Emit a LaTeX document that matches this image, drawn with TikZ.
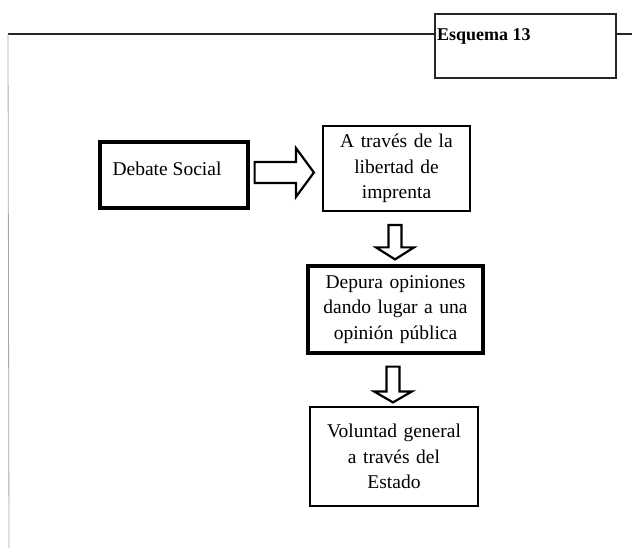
\documentclass[tikz,border=0pt]{standalone}
\usepackage{fontspec}
\setmainfont{Liberation Serif}
\usetikzlibrary{calc}

\tikzset{
  box/.style={draw=black, rectangle, align=center, inner sep=0pt,
    font=\fontsize{19.5}{25.5}\selectfont},
  thickbox/.style={box, line width=3.2pt},
  thinbox/.style={box, line width=2.2pt},
  blockarrow/.style={draw=black, fill=white, line width=2.2pt, line join=miter},
  rule/.style={draw=black!85, line width=1.4pt},
  margin/.style={draw=black!35, line width=0.8pt}
}

% Hollow block arrow from #1 to the tip #2 (sizes in pt):
% #3 shaft half-width, #4 head half-width, #5 head length
\newcommand\blkarrow[5]{%
  \coordinate (hb) at ($(#2)!#5pt!(#1)$);
  \draw[blockarrow]
    ($(#1)!#3pt!90:(#2)$) -- ($(hb)!#3pt!90:(#2)$) -- ($(hb)!#4pt!90:(#2)$)
    -- (#2) -- ($(hb)!#4pt!-90:(#2)$) -- ($(hb)!#3pt!-90:(#2)$)
    -- ($(#1)!#3pt!-90:(#2)$) -- cycle;
}

\begin{document}
\begin{tikzpicture}[x=1pt, y=-1pt]
  \useasboundingbox (0,0) rectangle (632,556);

  % header rule with the scheme label
  \coordinate (tl) at (8,34);
  \coordinate (tr) at (632,34);
  \coordinate (bl) at (9,548);
  \node[rule, rectangle, minimum width=181pt, minimum height=64pt] (esq) at (525.5,46) {};
  \node[anchor=base west, inner sep=0pt, font=\fontsize{18}{20}\selectfont\bfseries]
    (esqlabel) at (437,41) {Esquema 13};
  \draw[rule] (tl) -- (tl -| esq.west);
  \draw[rule] (esq.east |- tr) -- (tr);
  \draw[margin] (tl) -- (bl);

  % flow boxes
  \node[thickbox, minimum width=148pt, minimum height=66pt, text depth=13pt]
    (debate) at (174,175) {Debate Social\hspace*{14pt}};
  \node[thinbox, minimum width=147pt, minimum height=85pt, text width=140pt]
    (libertad) at (396.5,168.5) {A través de la\\ libertad de\\ imprenta};
  \node[thickbox, minimum width=175pt, minimum height=87pt, text width=170pt]
    (depura) at (395.5,309.5) {Depura opiniones\\ dando lugar a una\\ opinión pública};
  \node[thinbox, minimum width=168pt, minimum height=99pt, text width=164pt]
    (voluntad) at (394,456.5) {Voluntad general\\ a través del\\ Estado};

  % block arrows between the boxes
  \coordinate (a1s) at ($(debate.east)+(5,-2.5)$);
  \coordinate (a1t) at ($(libertad.west)+(-8,4)$);
  \blkarrow{a1s}{a1t}{10.5}{24.5}{18}

  \coordinate (a2s) at ($(libertad.south)+(-1.5,13)$);
  \coordinate (a2t) at ($(depura.north)+(-0.5,-5)$);
  \blkarrow{a2s}{a2t}{6.5}{19}{12}

  \coordinate (a3s) at ($(depura.south)+(-2.5,12)$);
  \coordinate (a3t) at ($(voluntad.north)+(-1,-3.5)$);
  \blkarrow{a3s}{a3t}{6.5}{19}{11}
\end{tikzpicture}
\end{document}
